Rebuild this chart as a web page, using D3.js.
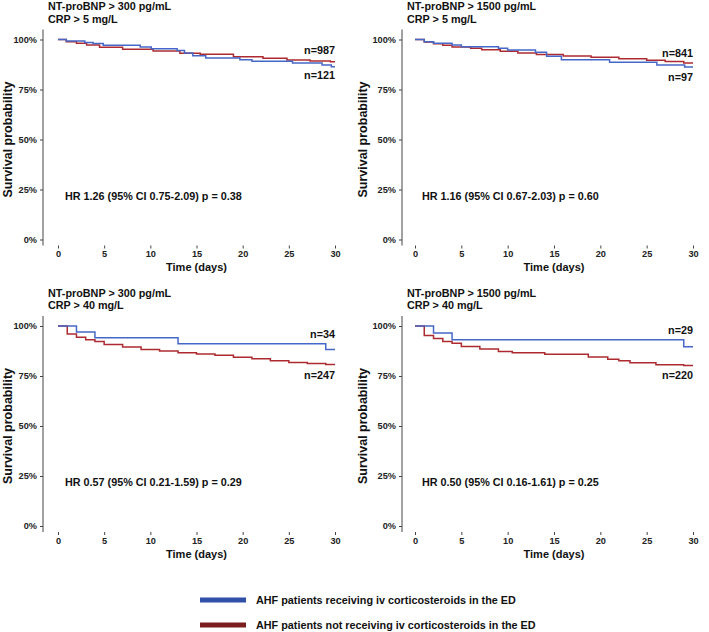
<!DOCTYPE html>
<html>
<head>
<meta charset="utf-8">
<script src="https://cdn.jsdelivr.net/npm/d3@7"></script>
<style>
  body { margin: 0; background: #fff; }
  svg { display: block; font-family: "Liberation Sans", Arial, sans-serif; font-weight: bold; }
</style>
</head>
<body>
<script>
// ---- data ----
const titles = [
  ["NT-proBNP > 300 pg/mL", "CRP > 5 mg/L"],
  ["NT-proBNP > 1500 pg/mL", "CRP > 5 mg/L"],
  ["NT-proBNP > 300 pg/mL", "CRP > 40 mg/L"],
  ["NT-proBNP > 1500 pg/mL", "CRP > 40 mg/L"],
];
const hrTexts = [
  "HR 1.26 (95% CI 0.75-2.09) p = 0.38",
  "HR 1.16 (95% CI 0.67-2.03) p = 0.60",
  "HR 0.57 (95% CI 0.21-1.59) p = 0.29",
  "HR 0.50 (95% CI 0.16-1.61) p = 0.25",
];
const nBlue = [121, 97, 34, 29];
const nRed = [987, 841, 247, 220];

// [day, survival %] at each step
const blue1 = [[0,100],[0.9,99.3],[2.9,98.5],[3.8,98],[4.9,97.1],[8.9,96.2],[10.1,95.4],[12.9,94.5],[13.7,93.3],[14.6,91.9],[16,90.8],[19.7,89.9],[21,89.1],[25.4,88.3],[28.6,87.3],[29.6,86.4],[30,86.4]];
const red1 = [[0,100],[0.9,98.9],[2,98.1],[3.1,97.2],[4.5,96.1],[7,95.1],[10.3,94.2],[13.2,93.1],[15.4,92.6],[19,91.4],[22.2,90.6],[24.8,89.7],[27.3,89.2],[29.5,88.9],[30,88.9]];
const blue2 = [[0,100],[1,98.9],[2,98.1],[4,97.3],[5,96.4],[9,95.6],[10,94.8],[13,93.6],[14.2,91.6],[15.8,89.9],[21,88.6],[26.1,87.3],[29.1,86.2],[30,86.2]];
const red2 = [[0,100],[1,98.8],[2,97.9],[3,97.1],[4,96.2],[6,95.6],[7.2,94.9],[9.2,94.1],[11.1,93.3],[13.1,92.5],[16,91.8],[19,91.1],[22,90.4],[25,89.6],[27,89],[29,88.3],[30,88.3]];
const blue3 = [[0,100],[2,97.06],[4,94.12],[13,91.18],[29,88.24],[30,88.24]];
const red3 = [[0,100],[1,96],[2,94.4],[3,93.1],[4,92.3],[5,90.7],[7,89.5],[9,88.3],[11,87.5],[13,86.6],[15,86],[17,85.4],[19,84.4],[21,83.6],[23,82.6],[25,81.8],[27,81.2],[29,80.8],[30,80.8]];
const blue4 = [[0,100],[2,96.55],[4,93.1],[29,89.66],[30,89.66]];
const red4 = [[0,100],[1,95.2],[2,93.8],[3,92.2],[4,91.4],[5,89.8],[7,88.5],[9,87.2],[10.5,86.6],[14,85.9],[18.7,84.5],[20.8,83.4],[22,82.6],[23.2,81.6],[26,80.6],[29,80.3],[30,80.3]];
const blueCurves = [blue1, blue2, blue3, blue4];
const redCurves = [red1, red2, red3, red4];

const xTicks = [0, 5, 10, 15, 20, 25, 30];
const yTicks = [0, 25, 50, 75, 100];
const legendLabels = [
  "AHF patients receiving iv corticosteroids in the ED",
  "AHF patients not receiving iv corticosteroids in the ED",
];

// ---- layout ----
const width = 709, height = 632;
const curveBlue = "#4568c8", curveRed = "#ad2b30";
const legendBlue = "#3050a8", legendRed = "#7a1e1e";
// per panel: axis x, plot left/right, top of 100% line
const panels = [
  { axisX: 43, titleX: 7, x0: 58, x1: 335, top: 39.5, nBlueY: 79.3, nRedY: 54 },
  { axisX: 402, titleX: 362, x0: 415, x1: 693, top: 39.5, nBlueY: 80.7, nRedY: 56.7 },
  { axisX: 43, titleX: 7, x0: 58, x1: 335, top: 326, nBlueY: 338.3, nRedY: 379.3 },
  { axisX: 402, titleX: 362, x0: 415, x1: 693, top: 326, nBlueY: 334, nRedY: 379.3 },
];
const plotHeight = 200;

const svg = d3.select("body").append("svg")
  .attr("width", width)
  .attr("height", height);
svg.append("rect").attr("width", width).attr("height", height).attr("fill", "#fff");

function drawPanel(p, i) {
  const g = svg.append("g").attr("class", "panel");
  const x = d3.scaleLinear().domain([0, 30]).range([p.x0, p.x1]);
  const y = d3.scaleLinear().domain([0, 100]).range([p.top + plotHeight, p.top]);

  // titles
  titles[i].forEach((t, k) => {
    g.append("text")
      .attr("x", p.axisX + 5)
      .attr("y", p.top - 29.5 + k * 12.5)
      .attr("font-size", "10.8px")
      .attr("fill", "#111")
      .text(t);
  });

  // y axis (line drawn separately, it runs past the 0-100 range)
  g.append("line")
    .attr("x1", p.axisX).attr("x2", p.axisX)
    .attr("y1", y(105)).attr("y2", y(-3))
    .attr("stroke", "#444").attr("stroke-width", 1);
  const yAxis = g.append("g")
    .attr("transform", `translate(${p.axisX},0)`)
    .call(d3.axisLeft(y).tickValues(yTicks).tickFormat((d) => d + "%").tickSize(3).tickPadding(3));
  yAxis.select(".domain").remove();
  yAxis.selectAll("line").attr("stroke", "#444");
  yAxis.selectAll("text").attr("font-size", "9.2px").attr("font-family", null).attr("fill", "#222");

  // x axis (ticks only, no line)
  const xAxis = g.append("g")
    .attr("transform", `translate(0,${y(-3)})`)
    .call(d3.axisBottom(x).tickValues(xTicks).tickSize(3).tickPadding(2));
  xAxis.select(".domain").remove();
  xAxis.selectAll("line").attr("stroke", "#444");
  xAxis.selectAll("text").attr("font-size", "9.2px").attr("font-family", null).attr("fill", "#222");

  g.append("text")
    .attr("x", (p.x0 + p.x1) / 2)
    .attr("y", p.top + 231.5)
    .attr("text-anchor", "middle")
    .attr("font-size", "11px")
    .attr("fill", "#111")
    .text("Time (days)");

  g.append("text")
    .attr("transform", `translate(${p.titleX + 4.5},${y(50)}) rotate(-90)`)
    .attr("text-anchor", "middle")
    .attr("font-size", "12.5px")
    .attr("fill", "#111")
    .text("Survival probability");

  // curves
  const line = d3.line()
    .x((d) => x(d[0]))
    .y((d) => y(d[1]))
    .curve(d3.curveStepAfter);
  g.append("path").datum(redCurves[i])
    .attr("d", line).attr("fill", "none")
    .attr("stroke", curveRed).attr("stroke-width", 1.5);
  g.append("path").datum(blueCurves[i])
    .attr("d", line).attr("fill", "none")
    .attr("stroke", curveBlue).attr("stroke-width", 1.5);

  // n labels
  g.append("text")
    .attr("x", p.x1).attr("y", p.nRedY)
    .attr("text-anchor", "end").attr("font-size", "10.8px").attr("fill", "#111")
    .text("n=" + nRed[i]);
  g.append("text")
    .attr("x", p.x1).attr("y", p.nBlueY)
    .attr("text-anchor", "end").attr("font-size", "10.8px").attr("fill", "#111")
    .text("n=" + nBlue[i]);

  // HR
  g.append("text")
    .attr("x", x(0) + 7)
    .attr("y", p.top + 160)
    .attr("font-size", "10.8px")
    .attr("fill", "#111")
    .text(hrTexts[i]);
}

function drawLegend() {
  const colors = [legendBlue, legendRed];
  const lg = svg.append("g").attr("class", "legend")
    .selectAll("g")
    .data(legendLabels)
    .enter()
    .append("g")
    .attr("transform", (d, i) => `translate(200,${600 + i * 25})`);
  lg.append("line")
    .attr("x1", 0).attr("x2", 46)
    .attr("stroke", (d, i) => colors[i])
    .attr("stroke-width", 5);
  lg.append("text")
    .attr("x", 56).attr("y", 4)
    .attr("font-size", "10.8px")
    .attr("fill", "#111")
    .text((d) => d);
}

panels.forEach(drawPanel);
drawLegend();
</script>
</body>
</html>
